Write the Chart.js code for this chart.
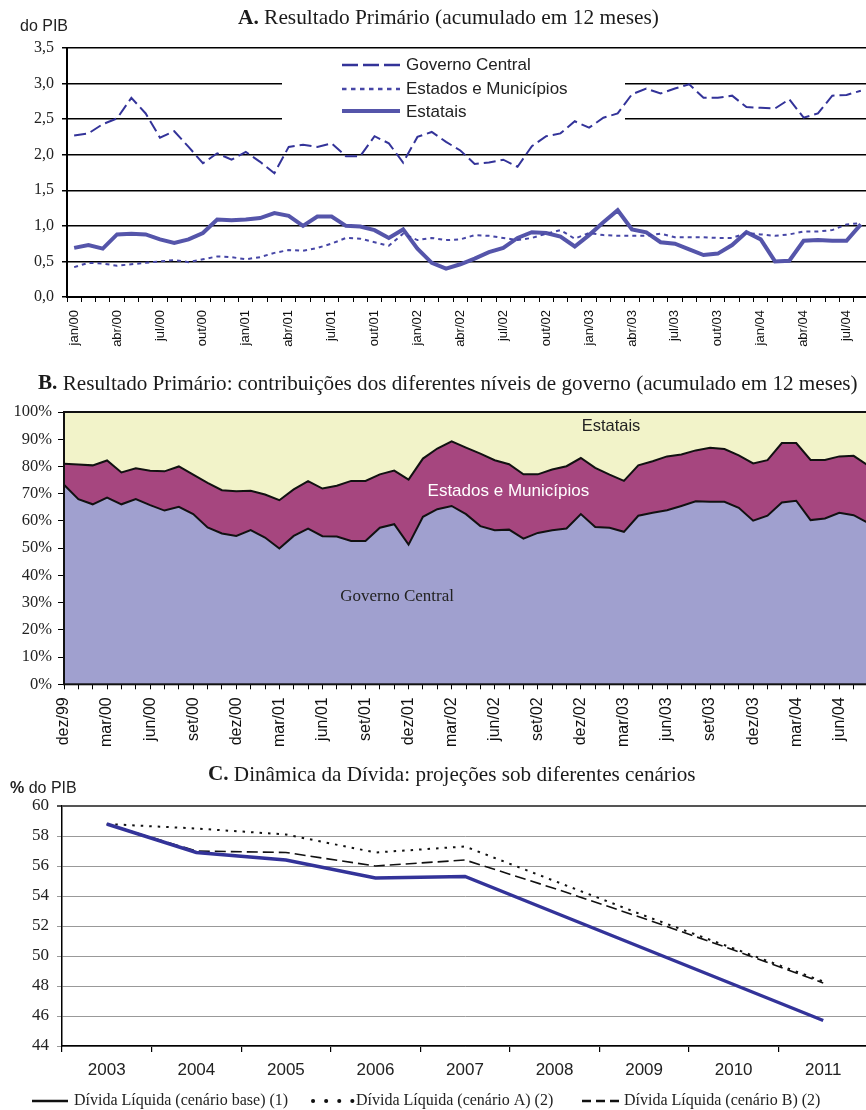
<!DOCTYPE html>
<html>
<head>
<meta charset="utf-8">
<script src="https://cdn.jsdelivr.net/npm/chart.js@4.4.1/dist/chart.umd.min.js"></script>
<style>
  html, body { margin: 0; padding: 0; background: #fff; overflow: hidden; }
  canvas { position: absolute; left: 0; }
  #cA { top: 0; }
  #cB { top: 335px; }
  #cC { top: 755px; }
</style>
</head>
<body>
<canvas id="cA" width="868" height="360"></canvas>
<canvas id="cB" width="868" height="420"></canvas>
<canvas id="cC" width="868" height="355"></canvas>
<script>
// ---- painel A: resultado primário (% do PIB), jan/00 a ago/04
const mesesA = ['jan/00','fev/00','mar/00','abr/00','mai/00','jun/00','jul/00','ago/00','set/00','out/00','nov/00','dez/00',
  'jan/01','fev/01','mar/01','abr/01','mai/01','jun/01','jul/01','ago/01','set/01','out/01','nov/01','dez/01',
  'jan/02','fev/02','mar/02','abr/02','mai/02','jun/02','jul/02','ago/02','set/02','out/02','nov/02','dez/02',
  'jan/03','fev/03','mar/03','abr/03','mai/03','jun/03','jul/03','ago/03','set/03','out/03','nov/03','dez/03',
  'jan/04','fev/04','mar/04','abr/04','mai/04','jun/04','jul/04','ago/04'];
const governoCentral = [2.27,2.30,2.43,2.51,2.80,2.58,2.24,2.33,2.11,1.88, 2.02,1.93,2.04,1.90,1.74,2.11,2.14,2.11,2.16,1.98,
  1.98,2.26,2.16,1.89,2.25,2.32,2.18,2.06,1.87,1.89, 1.93,1.83,2.12,2.26,2.30,2.47,2.38,2.52,2.58,2.85,
  2.93,2.86,2.93,2.99,2.80,2.80,2.83,2.67,2.66,2.65, 2.78,2.52,2.58,2.83,2.84,2.90];
const estadosMunicipios = [0.42,0.48,0.47,0.44,0.46,0.48,0.50,0.52,0.49,0.53, 0.57,0.56,0.53,0.56,0.62,0.66,0.65,0.69,0.75,0.83,
  0.82,0.77,0.72,0.89,0.80,0.83,0.80,0.81,0.87,0.86, 0.83,0.80,0.83,0.89,0.94,0.82,0.90,0.87,0.86,0.86,
  0.86,0.89,0.84,0.84,0.84,0.83,0.83,0.90,0.88,0.86, 0.88,0.92,0.92,0.94,1.02,1.04];
const estatais = [0.69,0.73,0.68,0.88,0.89,0.88,0.81,0.76,0.81,0.90, 1.09,1.08,1.09,1.11,1.18,1.14,1.00,1.13,1.13,1.00,
  0.99,0.94,0.83,0.95,0.68,0.48,0.40,0.46,0.54,0.63, 0.69,0.83,0.91,0.90,0.85,0.71,0.87,1.05,1.22,0.95,
  0.91,0.77,0.75,0.67,0.59,0.61,0.73,0.91,0.81,0.50, 0.51,0.79,0.80,0.79,0.79,1.02];

// ---- painel B: participação (%) de cada nível, dez/99 a ago/04
const mesesB = ['dez/99','jan/00','fev/00','mar/00','abr/00','mai/00','jun/00','jul/00','ago/00','set/00','out/00','nov/00','dez/00',
  'jan/01','fev/01','mar/01','abr/01','mai/01','jun/01','jul/01','ago/01','set/01','out/01','nov/01','dez/01',
  'jan/02','fev/02','mar/02','abr/02','mai/02','jun/02','jul/02','ago/02','set/02','out/02','nov/02','dez/02',
  'jan/03','fev/03','mar/03','abr/03','mai/03','jun/03','jul/03','ago/03','set/03','out/03','nov/03','dez/03',
  'jan/04','fev/04','mar/04','abr/04','mai/04','jun/04','jul/04','ago/04'];
const partGC = [73.3,68.0,66.1,68.6,66.1,68.0,65.8,63.8,65.2,62.5, 57.6,55.4,54.5,56.6,53.9,49.9,54.5,57.2,54.4,54.3,
  52.6,52.6,57.5,58.8,51.3,61.5,64.3,65.5,62.5,58.1, 56.6,56.8,53.5,55.6,56.6,57.2,62.5,57.8,57.5,56.0,
  61.9,63.0,63.9,65.5,67.2,67.0,67.0,64.8,60.1,61.9, 66.8,67.4,60.3,60.9,63.0,62.1,59.3];
const partEM = [7.7,12.7,14.3,13.6,11.7,11.3,12.6,14.4,14.8,14.5, 16.4,15.9,16.4,14.5,15.8,17.7,17.1,17.4,17.5,18.6,
  22.1,22.1,19.6,19.7,23.9,21.4,22.3,23.7,24.4,26.6, 25.7,24.0,23.6,21.5,22.3,22.9,20.6,21.7,19.5,18.7,
  18.5,18.9,19.8,18.9,18.7,19.9,19.4,19.3,21.0,20.4, 21.8,21.2,22.1,21.5,20.7,21.8,21.1];
const partEst = [19.0,19.3,19.6,17.8,22.2,20.7,21.6,21.8,20.0,23.0, 26.0,28.7,29.1,28.9,30.3,32.4,28.4,25.4,28.1,27.1,
  25.3,25.3,22.9,21.5,24.8,17.1,13.4,10.8,13.1,15.3, 17.7,19.2,22.9,22.9,21.1,19.9,16.9,20.5,23.0,25.3,
  19.6,18.1,16.3,15.6,14.1,13.1,13.6,15.9,18.9,17.7, 11.4,11.4,17.6,17.6,16.3,16.1,19.6];

// ---- painel C: dívida líquida projetada (% do PIB)
const anos = ['2003','2004','2005','2006','2007','2008','2009','2010','2011'];
const cenBase = [58.8,56.9,56.4,55.2,55.3,52.9,50.5,48.1,45.7];
const cenA = [58.8,58.5,58.1,56.9,57.3,55.0,52.7,50.5,48.3];
const cenB = [58.8,57.0,56.9,56.0,56.4,54.5,52.5,50.4,48.2];

const SERIF = '"Liberation Serif", "Times New Roman", serif';
const SANS = '"Liberation Sans", Arial, sans-serif';
Chart.defaults.font.family = SANS;
Chart.defaults.animation = false;

function titulo(negrito, resto, cx, cy, largura) {
  return {
    id: 'titulo',
    afterDraw(chart) {
      const ctx = chart.ctx;
      ctx.save();
      ctx.font = 'bold 20px ' + SERIF;
      let wb = ctx.measureText(negrito).width;
      ctx.font = '20px ' + SERIF;
      let wr = ctx.measureText(resto).width;
      const size = 20 * largura / (wb + wr);
      ctx.font = 'bold ' + size + 'px ' + SERIF;
      wb = ctx.measureText(negrito).width;
      const x = cx - largura / 2;
      ctx.fillStyle = '#1a1a1a';
      ctx.textBaseline = 'middle';
      ctx.fillText(negrito, x, cy);
      ctx.font = size + 'px ' + SERIF;
      ctx.fillText(resto, x + wb, cy);
      ctx.restore();
    }
  };
}

function texto(ctx, s, x, y, font, color, align) {
  ctx.font = font;
  ctx.fillStyle = color || '#222';
  ctx.textAlign = align || 'left';
  ctx.textBaseline = 'middle';
  ctx.fillText(s, x, y);
}

function linha(ctx, x1, x2, y, color, width, dash) {
  ctx.beginPath();
  ctx.strokeStyle = color;
  ctx.lineWidth = width;
  ctx.setLineDash(dash || []);
  ctx.moveTo(x1, y);
  ctx.lineTo(x2, y);
  ctx.stroke();
  ctx.setLineDash([]);
}

// ================= A =================
const legendaA = {
  id: 'legendaA',
  beforeDatasetsDraw(chart) {
    const ctx = chart.ctx;
    ctx.save();
    ctx.fillStyle = '#fff';
    ctx.fillRect(282, 51, 343, 71);
    linha(ctx, 342, 400, 65, '#333399', 2.5, [16, 5]);
    linha(ctx, 342, 400, 89, '#4646a6', 2.5, [4.5, 4.5]);
    linha(ctx, 342, 400, 111, '#5555aa', 4);
    texto(ctx, 'Governo Central', 406, 65, '17px ' + SANS, '#222');
    texto(ctx, 'Estados e Municípios', 406, 89, '17px ' + SANS, '#222');
    texto(ctx, 'Estatais', 406, 112, '17px ' + SANS, '#222');
    texto(ctx, 'do PIB', 20, 27, '16px ' + SANS, '#222');
    ctx.restore();
  }
};

new Chart(document.getElementById('cA'), {
  type: 'line',
  data: {
    labels: mesesA,
    datasets: [
      { label: 'Governo Central', data: governoCentral, borderColor: '#333399', borderWidth: 2, borderDash: [12, 5], pointRadius: 0, tension: 0 },
      { label: 'Estados e Municípios', data: estadosMunicipios, borderColor: '#4646a6', borderWidth: 2, borderDash: [4, 4], pointRadius: 0, tension: 0 },
      { label: 'Estatais', data: estatais, borderColor: '#5555aa', borderWidth: 4, pointRadius: 0, tension: 0 }
    ]
  },
  options: {
    responsive: false,
    layout: { padding: { top: 48, left: 0, right: 0, bottom: 0 } },
    plugins: { legend: { display: false }, tooltip: { enabled: false } },
    scales: {
      x: {
        offset: true,
        grid: { offset: true, drawOnChartArea: false, color: '#000', lineWidth: 1, tickLength: 5 },
        border: { color: '#000', width: 2 },
        ticks: {
          autoSkip: false, maxRotation: 90, minRotation: 90, padding: 8, color: '#111',
          font: { size: 13 },
          callback: (v, i) => (i % 3 === 0 ? mesesA[i] : '')
        },
        afterFit: s => { s.height = 63; s.paddingLeft = 0; s.paddingRight = 0; }
      },
      y: {
        min: 0, max: 3.5,
        grid: { color: '#000', lineWidth: 1.5, tickLength: 5 },
        border: { color: '#000', width: 2 },
        ticks: {
          stepSize: 0.5, padding: 8, color: '#222',
          font: { family: SERIF, size: 16 },
          callback: v => v.toFixed(1).replace('.', ',')
        },
        afterFit: s => { s.width = 67; s.paddingTop = 0; s.paddingBottom = 0; }
      }
    }
  },
  plugins: [legendaA, titulo('A.', ' Resultado Primário (acumulado em 12 meses)', 448.5, 18, 421)]
});

// ================= B =================
const rotulosB = {
  id: 'rotulosB',
  afterDatasetsDraw(chart) {
    const ctx = chart.ctx, a = chart.chartArea, x = chart.scales.x, y = chart.scales.y;
    ctx.save();
    ctx.strokeStyle = '#111';
    ctx.lineWidth = 2;
    ctx.strokeRect(a.left, a.top, a.right - a.left, a.bottom - a.top);
    texto(ctx, 'Estatais', x.getPixelForValue(38.1), y.getPixelForValue(94.8), '16.5px ' + SANS, '#222', 'center');
    texto(ctx, 'Estados e Municípios', x.getPixelForValue(30.95), y.getPixelForValue(70.9), '17px ' + SANS, '#fff', 'center');
    texto(ctx, 'Governo Central', x.getPixelForValue(23.2), y.getPixelForValue(32.1), '17px ' + SERIF, '#222', 'center');
    ctx.restore();
  }
};

new Chart(document.getElementById('cB'), {
  type: 'line',
  data: {
    labels: mesesB,
    datasets: [
      { label: 'Governo Central', data: partGC, backgroundColor: '#a0a0cf', borderColor: '#111', borderWidth: 2, fill: 'origin', pointRadius: 0, tension: 0 },
      { label: 'Estados e Municípios', data: partEM, backgroundColor: '#a6467f', borderColor: '#111', borderWidth: 2, fill: '-1', pointRadius: 0, tension: 0 },
      { label: 'Estatais', data: partEst, backgroundColor: '#f2f3c9', borderColor: 'rgba(0,0,0,0)', borderWidth: 0, fill: '-1', pointRadius: 0, tension: 0 }
    ]
  },
  options: {
    responsive: false,
    layout: { padding: { top: 77, left: 0, right: 0, bottom: 0 } },
    plugins: { legend: { display: false }, tooltip: { enabled: false } },
    scales: {
      x: {
        offset: false,
        grid: { drawOnChartArea: false, color: '#000', lineWidth: 1, tickLength: 5 },
        border: { color: '#000', width: 2 },
        ticks: {
          autoSkip: false, maxRotation: 90, minRotation: 90, padding: 8, color: '#111',
          font: { size: 16 },
          callback: (v, i) => (i % 3 === 0 ? mesesB[i] : '')
        },
        afterFit: s => { s.height = 70.7; s.paddingLeft = 0; s.paddingRight = 0; }
      },
      y: {
        stacked: true, min: 0, max: 100,
        grid: { drawOnChartArea: false, color: '#000', lineWidth: 1, tickLength: 6 },
        border: { color: '#000', width: 2 },
        ticks: {
          stepSize: 10, padding: 6, color: '#222',
          font: { family: SERIF, size: 16.5 },
          callback: v => v + '%'
        },
        afterFit: s => { s.width = 64; s.paddingTop = 0; s.paddingBottom = 0; }
      }
    }
  },
  plugins: [rotulosB, titulo('B.', ' Resultado Primário: contribuições dos diferentes níveis de governo (acumulado em 12 meses)', 448, 49, 820)]
});

// ================= C =================
const legendaC = {
  id: 'legendaC',
  afterDraw(chart) {
    const ctx = chart.ctx;
    ctx.save();
    const ly = 346;
    linha(ctx, 32, 68, ly, '#111', 2.5);
    texto(ctx, 'Dívida Líquida (cenário base) (1)', 74, ly, '16px ' + SERIF, '#222');
    ctx.lineCap = 'round';
    linha(ctx, 313, 353, ly, '#111', 4, [0.1, 13]);
    ctx.lineCap = 'butt';
    texto(ctx, 'Dívida Líquida (cenário A) (2)', 356, ly, '16px ' + SERIF, '#222');
    linha(ctx, 582, 621, ly, '#111', 2.5, [9, 5]);
    texto(ctx, 'Dívida Líquida (cenário B) (2)', 624, ly, '16px ' + SERIF, '#222');
    ctx.font = 'bold 16px ' + SANS;
    const wp = ctx.measureText('%').width;
    texto(ctx, '%', 10, 34, 'bold 16px ' + SANS, '#222');
    texto(ctx, ' do PIB', 10 + wp, 34, '16px ' + SANS, '#222');
    ctx.restore();
  }
};

new Chart(document.getElementById('cC'), {
  type: 'line',
  data: {
    labels: anos,
    datasets: [
      { label: 'Dívida Líquida (cenário base) (1)', data: cenBase, borderColor: '#333399', borderWidth: 3.5, pointRadius: 0, tension: 0 },
      { label: 'Dívida Líquida (cenário A) (2)', data: cenA, borderColor: '#111', borderWidth: 2, borderDash: [2.5, 6], pointRadius: 0, tension: 0 },
      { label: 'Dívida Líquida (cenário B) (2)', data: cenB, borderColor: '#111', borderWidth: 1.6, borderDash: [11, 5], pointRadius: 0, tension: 0 }
    ]
  },
  options: {
    responsive: false,
    layout: { padding: { top: 51, left: 0, right: 0, bottom: 0 } },
    plugins: { legend: { display: false }, tooltip: { enabled: false } },
    scales: {
      x: {
        offset: true,
        grid: { offset: true, drawOnChartArea: false, color: '#000', lineWidth: 1.2, tickLength: 6 },
        border: { color: '#000', width: 1.5 },
        ticks: { padding: 8, color: '#222', font: { size: 17 } },
        afterFit: s => { s.height = 64; s.paddingLeft = 0; s.paddingRight = 0; }
      },
      y: {
        min: 44, max: 60,
        grid: {
          color: c => (c.tick && c.tick.value === 60 ? '#555' : '#999'),
          lineWidth: c => (c.tick && c.tick.value === 60 ? 2 : 1),
          tickLength: 5
        },
        border: { color: '#000', width: 1.5 },
        ticks: { stepSize: 2, padding: 8, color: '#222', font: { family: SERIF, size: 17 } },
        afterFit: s => { s.width = 62; s.paddingTop = 0; s.paddingBottom = 0; }
      }
    }
  },
  plugins: [legendaC, titulo('C.', ' Dinâmica da Dívida: projeções sob diferentes cenários', 452, 20, 488)]
});
</script>
</body>
</html>
